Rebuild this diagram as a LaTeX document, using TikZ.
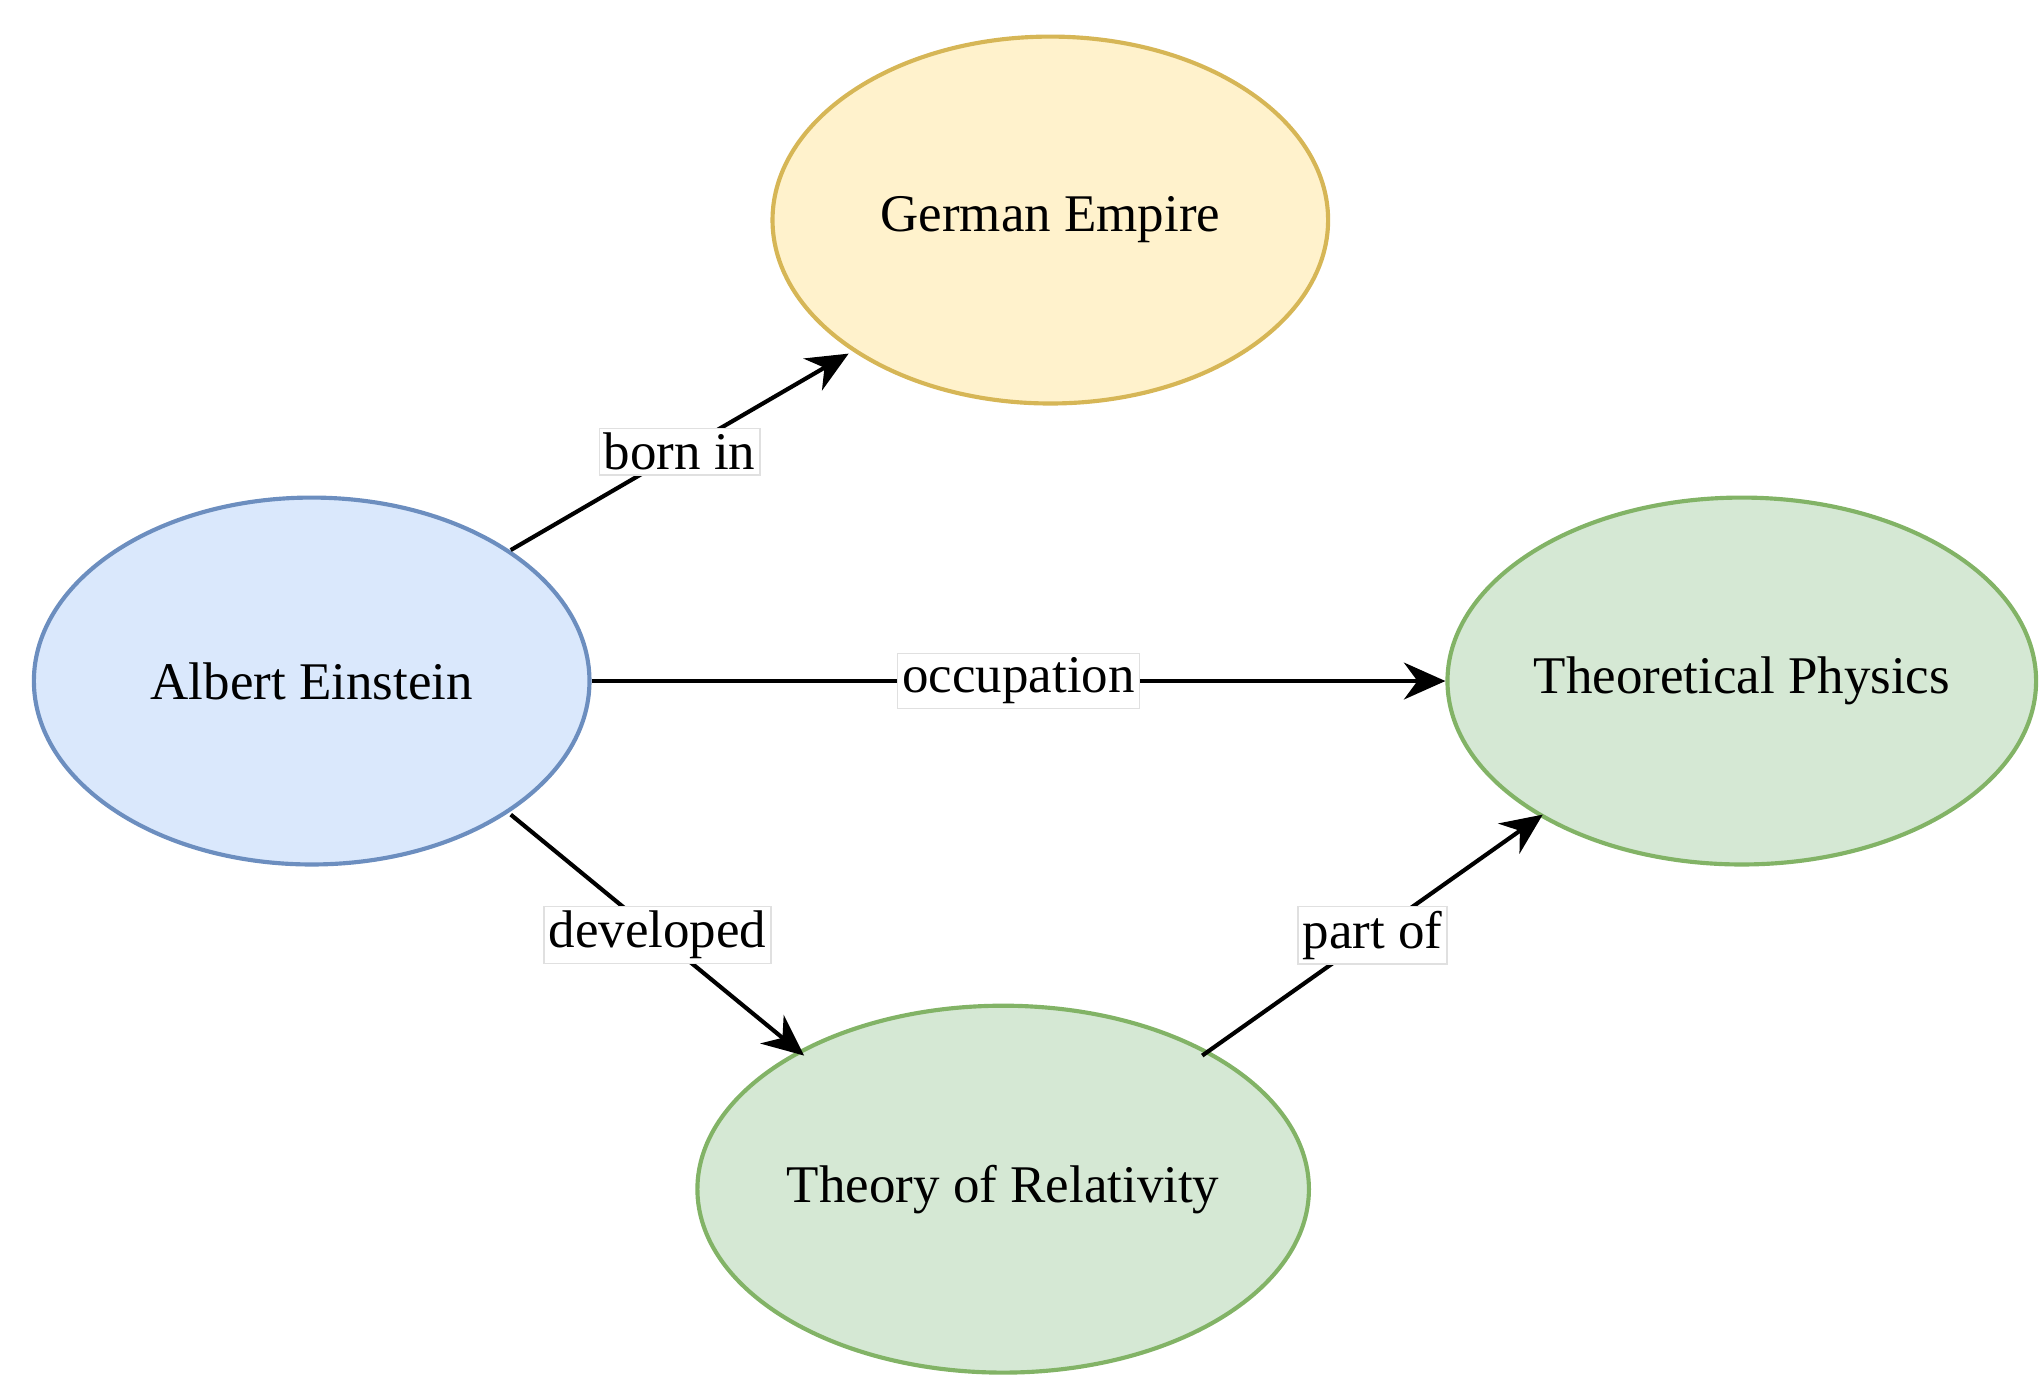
\documentclass[tikz,border=0pt]{standalone}
\usepackage{fontspec}
\setmainfont{Liberation Serif}
\usetikzlibrary{shapes.geometric,arrows.meta}
\definecolor{bfill}{HTML}{DAE8FC}\definecolor{bdraw}{HTML}{6C8EBF}
\definecolor{yfill}{HTML}{FFF2CC}\definecolor{ydraw}{HTML}{D6B656}
\definecolor{gfill}{HTML}{D5E8D4}\definecolor{gdraw}{HTML}{82B366}
\begin{document}
\begin{tikzpicture}[x=0.01cm,y=-0.01cm,
  ent/.style={ellipse,minimum width=4.24cm,minimum height=2.8cm,line width=0.9pt,font=\fontsize{11.5}{13}\selectfont,inner sep=0pt},
  rel/.style={-{Stealth[length=9pt,width=8pt]},line width=0.9pt},
  lab/.style={fill=white,draw=black!12,line width=0.3pt,inner sep=1pt,font=\fontsize{11.5}{13}\selectfont}]
\useasboundingbox (0,0) rectangle (1560,1062);
\node[ent,fill=yfill,draw=ydraw] (ge) at (802,168) {German Empire};
\node[ent,fill=bfill,draw=bdraw] (ae) at (238,520) {Albert Einstein};
\node[ent,fill=gfill,draw=gdraw] (tp) at (1330,520) {Theoretical Physics};
\node[ent,fill=gfill,draw=gdraw] (tr) at (766,908) {Theory of Relativity};
\coordinate (a1) at (390,420); \coordinate (g1) at (648,270);
\coordinate (a2) at (390,622); \coordinate (r1) at (614,806);
\coordinate (r2) at (918,806); \coordinate (p1) at (1178,622);
\draw[rel] (a1) -- node[lab,pos=0.5]{born in} (g1);
\draw[rel] (ae.east) -- node[lab,pos=0.5]{occupation} (tp.west);
\draw[rel] (a2) -- node[lab,pos=0.5]{developed} (r1);
\draw[rel] (r2) -- node[lab,pos=0.5]{part of} (p1);
\end{tikzpicture}
\end{document}
